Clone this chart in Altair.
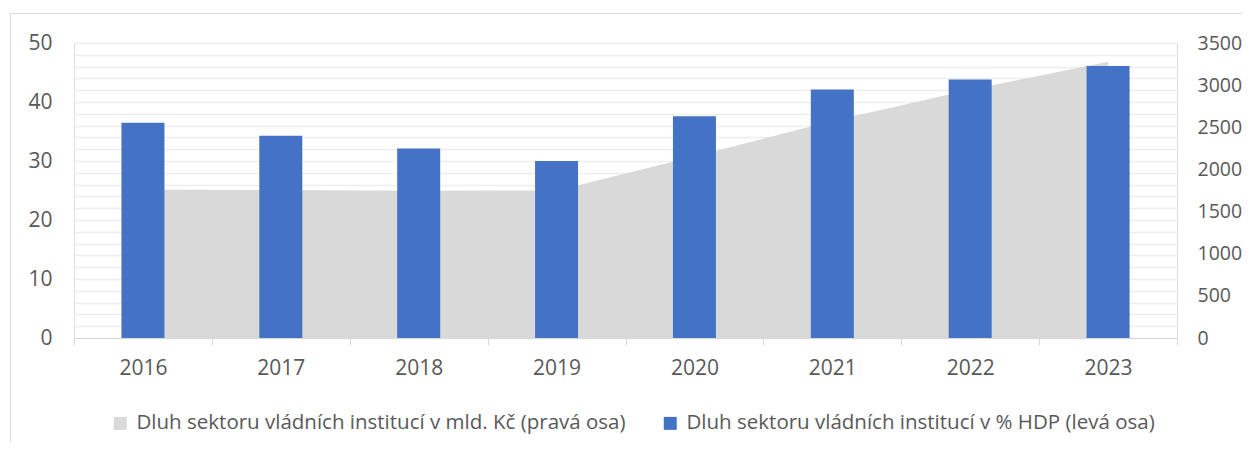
import altair as alt
import pandas as pd

years = ["2016", "2017", "2018", "2019", "2020", "2021", "2022", "2023"]
debt_pct_gdp = [36.5, 34.3, 32.1, 30.0, 37.6, 42.1, 43.8, 46.1]
debt_bn_czk = [1762, 1755, 1748, 1750, 2153, 2575, 2945, 3278]

area_label = "Dluh sektoru vládních institucí v mld. Kč (pravá osa)"
bar_label = "Dluh sektoru vládních institucí v % HDP (levá osa)"

left_ticks = list(range(0, 51, 2))
right_ticks = list(range(0, 3501, 500))

FONT = "Open Sans"
FS = 21
TXT = "#595959"
GRID = "#d9d9d9"

df_area = pd.DataFrame({"year": years, "value": debt_bn_czk, "series": area_label})
df_bar = pd.DataFrame({"year": years, "value": debt_pct_gdp, "series": bar_label})

color_scale = alt.Scale(domain=[area_label, bar_label], range=["#D9D9D9", "#4472C4"])

x_enc = alt.X(
    "year:O",
    sort=years,
    title=None,
    axis=alt.Axis(
        labelAngle=0,
        tickBand="extent",
        tickSize=7,
        tickColor=GRID,
        domainColor=GRID,
        labelPadding=12,
        labelFontSize=FS,
        labelColor=TXT,
        labelFont=FONT,
        grid=False,
    ),
)

legend = alt.Legend(
    title=None,
    orient="none",
    legendX=36,
    legendY=370,
    direction="horizontal",
    symbolType="square",
    symbolSize=169,
    symbolStrokeWidth=0,
    labelFontSize=20.5,
    labelColor=TXT,
    labelFont=FONT,
    labelOffset=6,
    columnPadding=34,
    labelLimit=800,
)

area = alt.Chart(df_area).mark_area(opacity=1, interpolate="linear").encode(
    x=x_enc,
    y=alt.Y(
        "value:Q",
        scale=alt.Scale(domain=[0, 3500], nice=False),
        title=None,
        axis=alt.Axis(
            orient="right",
            values=right_ticks,
            format="d",
            grid=False,
            domain=False,
            ticks=False,
            tickSize=0,
            labelPadding=20,
            labelFontSize=19.5,
            labelColor=TXT,
            labelFont=FONT,
        ),
    ),
    color=alt.Color("series:N", scale=color_scale, legend=legend),
)

bars = alt.Chart(df_bar).mark_bar(size=43).encode(
    x=x_enc,
    y=alt.Y(
        "value:Q",
        scale=alt.Scale(domain=[0, 50], nice=False),
        title=None,
        axis=alt.Axis(
            orient="left",
            values=left_ticks,
            labelExpr="datum.value % 10 === 0 ? datum.label : ''",
            grid=True,
            gridColor="#eeeeee",
            gridWidth=1.5,
            domain=False,
            ticks=False,
            tickSize=0,
            labelPadding=22,
            labelFontSize=FS,
            labelColor=TXT,
            labelFont=FONT,
        ),
    ),
    color=alt.Color("series:N", scale=color_scale, legend=legend),
)

frame = alt.Chart(alt.Data(values=[{"f": 1}])).mark_rect(
    fill=None, stroke=GRID, strokeWidth=1
).encode(
    x=alt.value(-63.5),
    x2=alt.value(1300),
    y=alt.value(-29.5),
    y2=alt.value(600),
)

chart = (
    alt.layer(area, bars, frame)
    .resolve_scale(y="independent")
    .properties(
        width=1103,
        height=295,
        autosize=alt.AutoSizeParams(type="none"),
        padding={"left": 66, "top": 35, "right": 65, "bottom": 104},
    )
    .configure_view(stroke=None)
    .configure(background="white")
)

chart.save("out.html", embed_options={"renderer": "svg", "actions": False})
